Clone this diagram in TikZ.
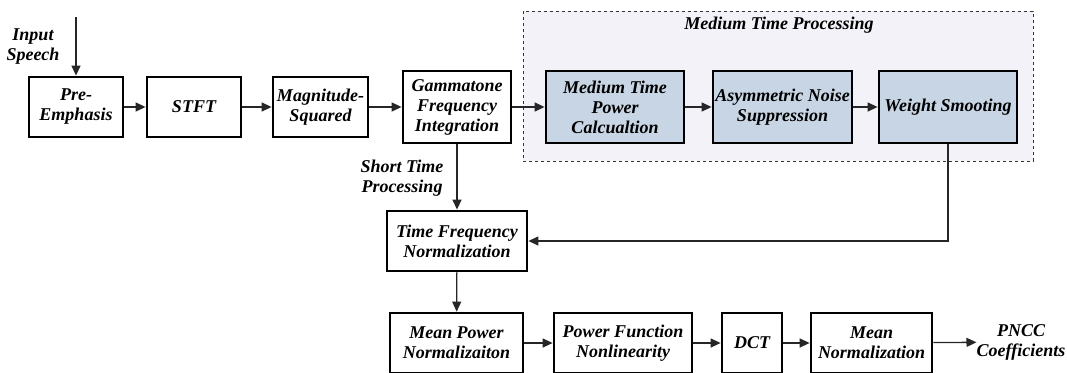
\documentclass[tikz,border=0pt]{standalone}
\usepackage{fontspec}
\setmainfont{Liberation Serif}
\usetikzlibrary{arrows.meta,positioning}
\definecolor{boxblue}{HTML}{C8D5E4}
\definecolor{regionbg}{HTML}{F3F2F8}
\tikzset{
  blk/.style={draw=black, line width=2.8pt, fill=white, align=center, inner sep=1pt,
    font=\fontsize{18}{20}\selectfont\bfseries\itshape},
  mblk/.style={blk, fill=boxblue},
  lbl/.style={align=center, inner sep=0pt, font=\fontsize{18}{20}\selectfont\bfseries\itshape},
  arr/.style={draw=black!85, line width=1.3pt, -{Triangle[length=10pt,width=9pt]}},
}
\begin{document}
\begin{tikzpicture}[x=1pt,y=-1pt]
\useasboundingbox (0,0) rectangle (1067,372);
% region
\draw[dashed, line width=0.9pt, fill=regionbg, draw=black!80] (523,11) rectangle (1033,161);
\node[lbl] (mtitle) at (779,25) {Medium Time Processing};
% top row
\node[blk, minimum width=94pt, minimum height=60pt] (pre) at (76,107) {Pre-\\Emphasis};
\node[blk, minimum width=94pt, minimum height=60pt] (stft) at (194,107) {STFT};
\node[blk, minimum width=95pt, minimum height=60pt] (mag) at (320.5,107) {Magnitude-\\Squared};
\node[blk, minimum width=108pt, minimum height=72pt] (gam) at (457,107) {Gammatone\\Frequency\\Integration};
\node[mblk, minimum width=138pt, minimum height=72pt] (mtp) at (615,107) {Medium Time\\Power\\Calcualtion};
\node[mblk, minimum width=139pt, minimum height=72pt] (ans) at (782.5,107) {Asymmetric Noise\\Suppression};
\node[mblk, minimum width=138pt, minimum height=72pt] (ws) at (948,107) {Weight Smooting};
% middle
\node[blk, minimum width=140pt, minimum height=60pt] (tf) at (457,241) {Time Frequency\\Normalization};
% bottom row
\node[blk, minimum width=133pt, minimum height=60pt] (mpn) at (456.5,343) {Mean Power\\Normalizaiton};
\node[blk, minimum width=138pt, minimum height=60pt] (pfn) at (623,343) {Power Function\\Nonlinearity};
\node[blk, minimum width=60pt, minimum height=60pt] (dct) at (752,343) {DCT};
\node[blk, minimum width=121pt, minimum height=60pt] (mn) at (871.5,343) {Mean\\Normalization};
\node[lbl] (pncc) at (1021,342) {PNCC\\Coefficients};
% labels
\node[lbl] (inp) at (33,47) {Input\\Speech};
\node[lbl] (stp) at (402,178) {Short Time\\Processing};
\coordinate (src) at (76,17);
\coordinate (bend) at (948,241);
% connectors
\draw[arr] (src) -- (pre.north);
\draw[arr] (pre) -- (stft);
\draw[arr] (stft) -- (mag);
\draw[arr] (mag) -- (gam);
\draw[arr] (gam) -- (mtp);
\draw[arr] (mtp) -- (ans);
\draw[arr] (ans) -- (ws);
\draw[arr] (gam) -- (tf);
\draw[arr] (ws.south) -- (bend) -- (tf.east);
\draw[arr] (tf) -- (mpn);
\draw[arr] (mpn) -- (pfn);
\draw[arr] (pfn) -- (dct);
\draw[arr] (dct) -- (mn);
\draw[arr] (mn) -- (pncc);
\end{tikzpicture}
\end{document}
